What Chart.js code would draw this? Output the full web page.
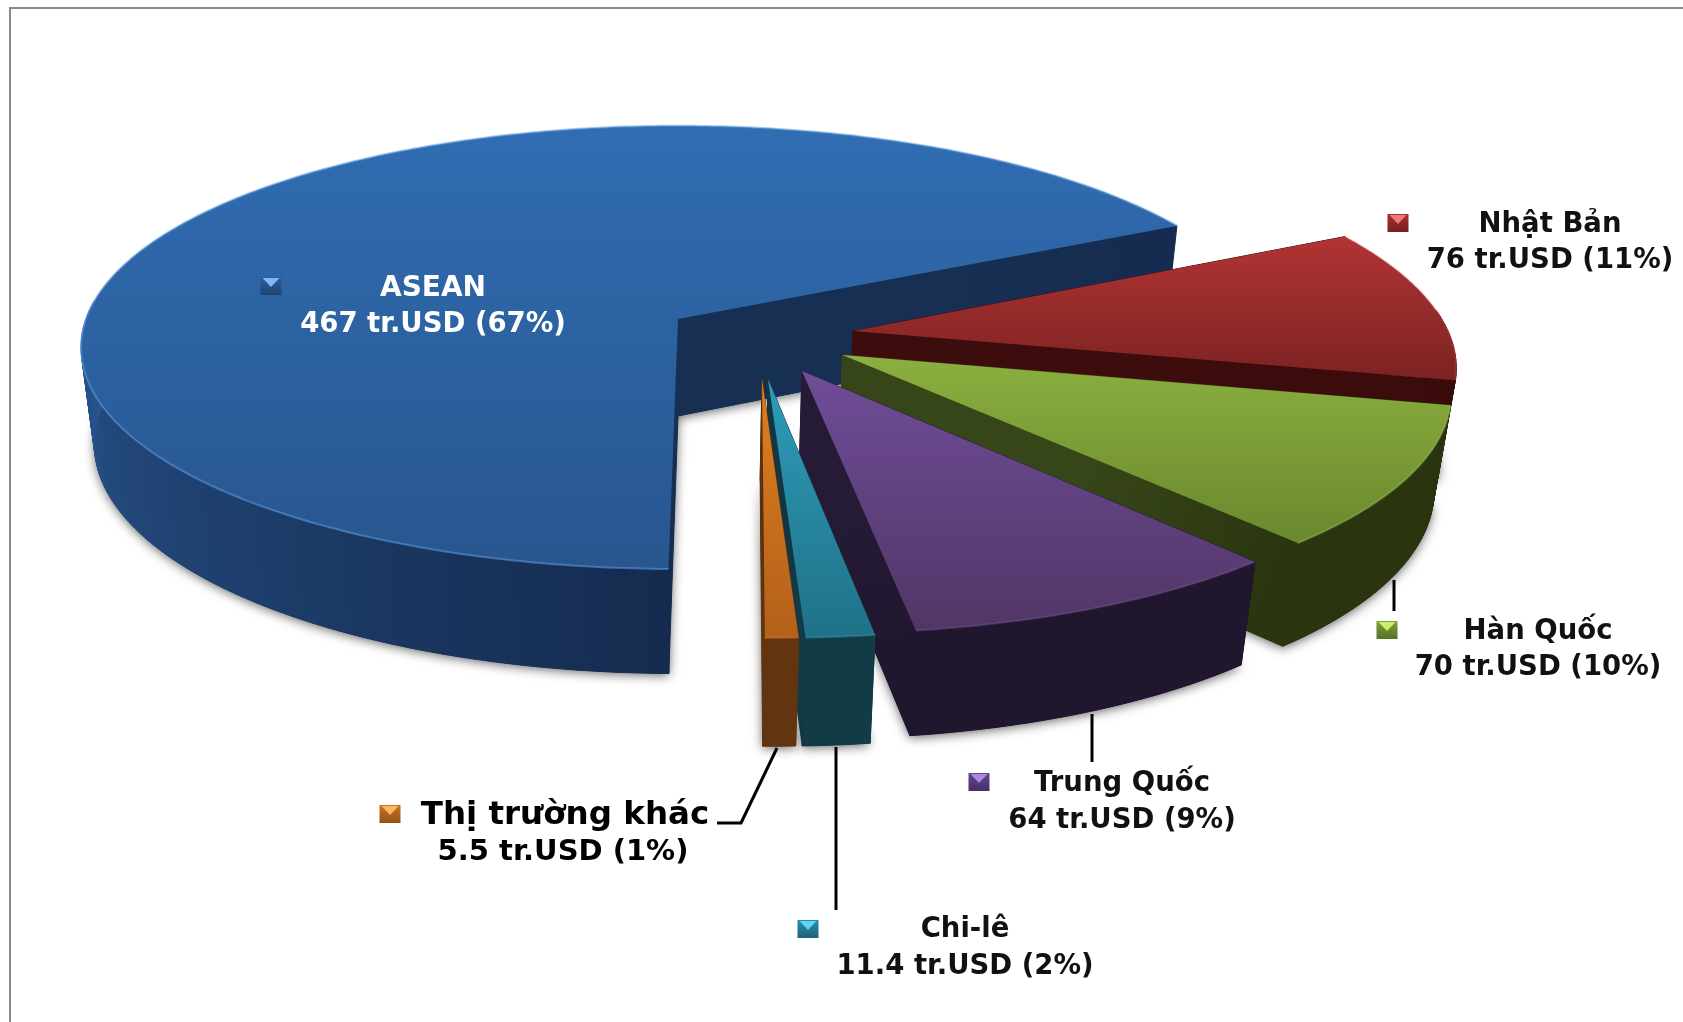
<!DOCTYPE html>
<html>
<head>
<meta charset="utf-8">
<style>html,body{margin:0;padding:0;background:#fff}canvas{display:block}</style>
<script src="https://cdn.jsdelivr.net/npm/chart.js@4/dist/chart.umd.min.js"></script>
</head>
<body>
<canvas id="c" width="1683" height="1022"></canvas>
<script>
// ---- data
const categories = ["ASEAN", "Nhật Bản", "Hàn Quốc", "Trung Quốc", "Chi-lê", "Thị trường khác"];
const valuesUSD  = [467, 76, 70, 64, 11.4, 5.5];
const percents   = [67, 11, 10, 9, 2, 1];
const unit = "tr.USD";

// ---- styles
const topLight  = ["#306db2", "#b23434", "#8bb03f", "#6f4d98", "#2e9cba", "#e07f20"];
const topDark   = ["#28568f", "#7c2222", "#6a882e", "#513666", "#1f7287", "#b2601a"];
const wallFrom  = ["#28548c", "#3e0d0c", "#2f3b12", "#24193a", "#143c4a", "#643510"];
const wallTo    = ["#152b4f", "#3a0c0b", "#2a3510", "#20162e", "#133a47", "#623410"];
const radial    = ["#172f52", "#3d0c0c", "#374618", "#261b36", "#123642", "#5a300e"];
const rimLight  = ["rgba(96,156,226,.55)", "rgba(214,96,90,.25)", "rgba(180,210,110,.35)", "rgba(150,120,190,.25)", "rgba(90,190,215,.25)", "rgba(250,170,90,.25)"];
const keyBase   = ["#2c5f9e", "#a82f2f", "#7ea03a", "#64458e", "#2a8eab", "#cf7420"];
const keyTip    = ["#7db8f5", "#f0777a", "#cdee68", "#a98ae0", "#63d3f2", "#f8b860"];
const textColor = ["#ffffff", "#111111", "#111111", "#111111", "#111111", "#000000"];

// ---- layout of the exploded 3-D slices (apex in page px, scale of each slice)
const apexX = [678, 853, 842.5, 802, 768, 762];
const apexY = [319, 331, 355, 371, 379, 379];
const sliceScale = [1, 1.005, 1.015, 1.02, 1, 1];
const depthScale = [1, 1, 1, 1, 1.05, 1.05];
const PIE_RADIUS = 500, RX = 592 / 500, RY = 213 / 500, PERSP = 0.128, DEPTH = 100 / 500, PERSP_Z = 0.0225;
const VANISH_X = 678, VANISH_Y = 280;
const ROTATION = 180.8;

// ---- label layout
const FONT_FAMILY = "'DejaVu Sans'";
const labelX  = [433, 1550, 1538, 1122, 965, 565];
const labelY1 = [289, 225, 632, 784, 930, 816];
const labelY2 = [325, 261, 668, 821, 967, 852];
const label2X = [433, 1550, 1538, 1122, 965, 563];
const labelFont1 = [28, 27.5, 27.5, 27.5, 27.5, 32.5];
const labelFont2 = [27.5, 27.5, 27.5, 27.5, 27.5, 29];
const keyX = [271, 1398, 1387, 979, 808, 390];
const keyY = [286, 223, 630, 782, 929, 814];
const leaders = [null, null,
  [[1394, 580], [1394, 611]],
  [[1092, 714], [1092, 762]],
  [[836, 747], [836, 910]],
  [[777, 748], [741, 823], [717, 823]]];

function mix(a, b, t) {
  const p = h => [1, 3, 5].map(i => parseInt(h.substr(i, 2), 16));
  const A = p(a), B = p(b);
  return "rgb(" + A.map((v, i) => Math.round(v + (B[i] - v) * t)).join(",") + ")";
}

const pie3d = {
  id: "pie3d",
  beforeDraw(chart) {
    const c = chart.ctx;
    c.save();
    c.fillStyle = "#fff";
    c.fillRect(0, 0, chart.width, chart.height);
    c.strokeStyle = "#8a8a8a";
    c.lineWidth = 2;
    c.beginPath();
    c.moveTo(10, chart.height); c.lineTo(10, 8); c.lineTo(chart.width, 8);
    c.stroke();
    c.restore();
  },
  beforeDatasetsDraw(chart) {
    const c = chart.ctx;
    const arcs = chart.getDatasetMeta(0).data;
    arcs.forEach((arc, i) => {
      const a0 = arc.startAngle + Math.PI / 2, a1 = arc.endAngle + Math.PI / 2;
      const R = arc.outerRadius * sliceScale[i];
      const P = (th, r, z) => {
        const v = -Math.cos(th) * r;
        const w = 1 - PERSP * v + PERSP_Z * z;
        return [VANISH_X + (apexX[i] - VANISH_X + R * RX * Math.sin(th) * r) / w,
                VANISH_Y + (apexY[i] - VANISH_Y + R * (RY * v + DEPTH * depthScale[i] * z)) / w];
      };
      const steps = Math.max(4, Math.ceil((a1 - a0) / (Math.PI / 240)));
      const th = k => a0 + (a1 - a0) * k / steps;
      const poly = (pts) => {
        c.beginPath();
        pts.forEach((p, n) => n ? c.lineTo(p[0], p[1]) : c.moveTo(p[0], p[1]));
        c.closePath();
      };
      const rim = z => { const o = []; for (let k = 0; k <= steps; k++) o.push(P(th(k), 1, z)); return o; };

      // base with soft shadow
      c.save();
      c.shadowColor = "rgba(0,0,0,.6)";
      c.shadowBlur = 11;
      c.shadowOffsetX = 0;
      c.shadowOffsetY = 2;
      c.fillStyle = wallTo[i];
      poly([P(0, 0, 1)].concat(rim(1)));
      c.fill();
      c.restore();

      // radial walls
      c.lineWidth = 1;
      [a0, a1].forEach(t => {
        const s = P(t, 0, 0), e = P(t, 1, 0);
        const rg = c.createLinearGradient(s[0], s[1], e[0], e[1]);
        rg.addColorStop(0, radial[i]);
        rg.addColorStop(.55, radial[i]);
        rg.addColorStop(1, wallTo[i]);
        c.fillStyle = c.strokeStyle = rg;
        poly([P(t, 0, 0), P(t, 1, 0), P(t, 1, 1), P(t, 0, 1)]);
        c.fill(); c.stroke();
      });

      // outer wall, only the strips that face the viewer
      const lo = 85 * Math.PI / 180, hi = 275 * Math.PI / 180;
      const norm = t => ((t % (2 * Math.PI)) + 2 * Math.PI) % (2 * Math.PI);
      for (let k = 0; k < steps; k++) {
        const t0 = th(k), t1 = th(k + 1);
        const m = norm((t0 + t1) / 2);
        if (m < lo || m > hi) continue;
        const shade = Math.min(1, Math.max(0, (m - Math.PI) / (Math.PI / 2)));
        const col = mix(wallTo[i], wallFrom[i], shade);
        c.fillStyle = c.strokeStyle = col;
        poly([P(t0, 1, 0), P(t1, 1, 0), P(t1, 1, 1), P(t0, 1, 1)]);
        c.fill(); c.stroke();
      }

      // top face
      const top = [P(0, 0, 0)].concat(rim(0));
      let y0 = 1e9, y1 = -1e9;
      top.forEach(p => { y0 = Math.min(y0, p[1]); y1 = Math.max(y1, p[1]); });
      const g = c.createLinearGradient(0, y0, 0, y1);
      g.addColorStop(0, topLight[i]);
      g.addColorStop(1, topDark[i]);
      c.fillStyle = g;
      poly(top);
      c.fill();

      // light bevel along the rim
      c.strokeStyle = rimLight[i];
      c.lineWidth = 2;
      c.beginPath();
      rim(0).forEach((p, n) => n ? c.lineTo(p[0], p[1]) : c.moveTo(p[0], p[1]));
      c.stroke();
    });
    return false;
  },
  afterDraw(chart) {
    const c = chart.ctx;
    c.save();
    // leader lines
    c.strokeStyle = "#000";
    c.lineWidth = 3;
    c.lineJoin = "round";
    leaders.forEach(l => {
      if (!l) return;
      c.beginPath();
      l.forEach((p, n) => n ? c.lineTo(p[0], p[1]) : c.moveTo(p[0], p[1]));
      c.stroke();
    });
    categories.forEach((name, i) => {
      // bevelled legend key
      const kw = 21, kh = 18, x = keyX[i] - kw / 2, y = keyY[i] - kh / 2;
      const g = c.createLinearGradient(0, y, 0, y + kh);
      g.addColorStop(0, keyBase[i]);
      g.addColorStop(1, mix(keyBase[i], "#000000", .3));
      c.fillStyle = g;
      c.fillRect(x, y, kw, kh);
      c.fillStyle = keyTip[i];
      c.beginPath();
      c.moveTo(x + 2, y + 1); c.lineTo(x + kw - 2, y + 1); c.lineTo(x + kw / 2, y + kh * .55);
      c.closePath();
      c.fill();
      // texts
      c.fillStyle = textColor[i];
      c.textAlign = "center";
      c.textBaseline = "middle";
      c.font = "bold " + labelFont1[i] + "px " + FONT_FAMILY;
      c.fillText(name, labelX[i], labelY1[i]);
      c.font = "bold " + labelFont2[i] + "px " + FONT_FAMILY;
      c.fillText(valuesUSD[i] + " " + unit + " (" + percents[i] + "%)", label2X[i], labelY2[i]);
    });
    c.restore();
  }
};

new Chart(document.getElementById("c"), {
  type: "pie",
  data: {
    labels: categories,
    datasets: [{ data: valuesUSD, backgroundColor: topLight, borderWidth: 0, radius: PIE_RADIUS }]
  },
  options: {
    responsive: false,
    animation: false,
    rotation: ROTATION,
    layout: { padding: 0 },
    plugins: { legend: { display: false }, tooltip: { enabled: false } }
  },
  plugins: [pie3d]
});
</script>
</body>
</html>
